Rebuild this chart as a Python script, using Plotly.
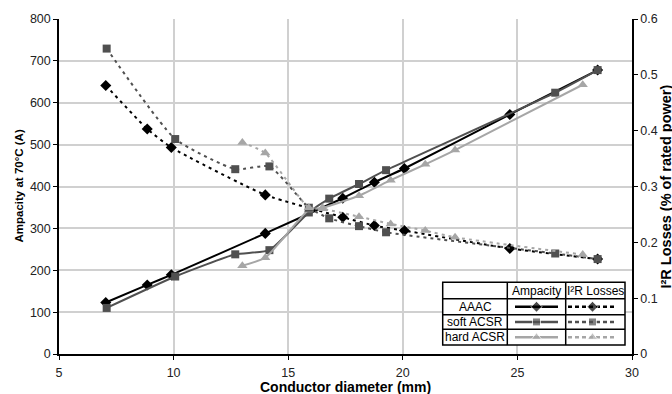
import plotly.graph_objects as go

# ---------------- data ----------------
aaac_diam = [7.04, 8.85, 9.9, 14.0, 17.38, 18.76, 20.07, 24.67, 28.5]
aaac_amp = [123, 165, 189, 288, 372, 410, 443, 572, 678]
aaac_loss = [0.481, 0.403, 0.370, 0.285, 0.245, 0.230, 0.221, 0.189, 0.170]

soft_diam = [7.08, 10.07, 12.69, 14.18, 15.9, 16.79, 18.09, 19.27, 26.65, 28.5]
soft_amp = [110, 185, 238, 248, 338, 371, 406, 439, 624, 678]
soft_loss = [0.547, 0.385, 0.331, 0.336, 0.262, 0.243, 0.229, 0.218, 0.180, 0.170]

hard_diam = [13.0, 14.0, 15.9, 16.5, 18.09, 19.47, 20.98, 22.28, 27.85]
hard_amp = [211, 230, 344, 349, 378, 415, 453, 487, 643]
hard_loss = [0.379, 0.360, 0.262, 0.260, 0.246, 0.233, 0.221, 0.209, 0.178]

series_names = ["AAAC", "soft ACSR", "hard ACSR"]
col_headers = ["Ampacity", "I\u00b2R Losses"]

x_ticks = [5, 10, 15, 20, 25, 30]
y_ticks = [0, 100, 200, 300, 400, 500, 600, 700, 800]
y2_ticks = [0, 0.1, 0.2, 0.3, 0.4, 0.5, 0.6]

# ---------------- styling ----------------
FONT = "Liberation Sans, Arial, sans-serif"
colors = ["#000000", "#505050", "#a6a6a6"]
symbols = ["diamond", "square", "triangle-up"]
msizes = [8.5, 8, 9]
DASH = "3px,4px"

W, H = 672, 394
L, R, T, B = 59, 40, 16, 40
PW, PH = W - L - R, H - T - B
X0, X1 = 5, 30
Y0, Y1 = 0, 800


def px_x(p):
    return X0 + (p - L) / PW * (X1 - X0)


def px_y(p):
    return Y0 + (H - B - p) / PH * (Y1 - Y0)


fig = go.Figure()

data = [
    (aaac_diam, aaac_amp, aaac_loss),
    (soft_diam, soft_amp, soft_loss),
    (hard_diam, hard_amp, hard_loss),
]

for i, (d, a, l) in enumerate(data):
    fig.add_trace(go.Scatter(
        x=d, y=a, mode="lines+markers", xaxis="x", yaxis="y",
        line=dict(color=colors[i], width=2, shape="spline", smoothing=0.5),
        marker=dict(symbol=symbols[i], size=msizes[i], color=colors[i]),
        showlegend=False, hoverinfo="skip"))
for i, (d, a, l) in enumerate(data):
    fig.add_trace(go.Scatter(
        x=d, y=l, mode="lines+markers", xaxis="x", yaxis="y2",
        line=dict(color=colors[i], width=2, dash=DASH, shape="spline", smoothing=0.5),
        marker=dict(symbol=symbols[i], size=msizes[i], color=colors[i]),
        showlegend=False, hoverinfo="skip"))

# ---------------- custom table legend ----------------
tx0, tx1, tx2, tx3 = 442.7, 507.3, 565.7, 625.0
ty0, ty1, ty2, ty3, ty4 = 281.7, 298.3, 314.3, 329.0, 345.0
row_y = [(ty1 + ty2) / 2, (ty2 + ty3) / 2, (ty3 + ty4) / 2]

shapes = [dict(type="rect", xref="x", yref="y", x0=px_x(tx0), x1=px_x(tx3),
               y0=px_y(ty0), y1=px_y(ty4),
               fillcolor="white", line=dict(color="black", width=1.5), layer="between")]
for xv in (tx1, tx2):
    shapes.append(dict(type="line", xref="x", yref="y", x0=px_x(xv), x1=px_x(xv),
                       y0=px_y(ty0), y1=px_y(ty4),
                       line=dict(color="black", width=1.5), layer="between"))
for yv in (ty1, ty2, ty3):
    shapes.append(dict(type="line", xref="x", yref="y", x0=px_x(tx0), x1=px_x(tx3),
                       y0=px_y(yv), y1=px_y(yv),
                       line=dict(color="black", width=1.5), layer="between"))

for i in range(3):
    ry = px_y(row_y[i])
    fig.add_trace(go.Scatter(
        x=[px_x(515), px_x(536.5), px_x(558)], y=[ry, ry, ry], xaxis="x", yaxis="y",
        mode="lines+markers", line=dict(color=colors[i], width=2.5),
        marker=dict(symbol=symbols[i], size=[0, msizes[i], 0], color=colors[i]),
        showlegend=False, hoverinfo="skip"))
    fig.add_trace(go.Scatter(
        x=[px_x(568), px_x(592.5), px_x(617)], y=[ry, ry, ry], xaxis="x", yaxis="y",
        mode="lines+markers", line=dict(color=colors[i], width=2.5, dash="4px,3px"),
        marker=dict(symbol=symbols[i], size=[0, msizes[i], 0], color=colors[i]),
        showlegend=False, hoverinfo="skip"))

annotations = []
for i, name in enumerate(series_names):
    annotations.append(dict(x=px_x((tx0 + tx1) / 2), y=px_y(row_y[i]), xref="x", yref="y",
                            text=name, showarrow=False,
                            font=dict(family=FONT, size=12, color="black"),
                            xanchor="center", yanchor="middle"))
annotations.append(dict(x=px_x((tx1 + tx2) / 2), y=px_y((ty0 + ty1) / 2), xref="x", yref="y",
                        text=col_headers[0], showarrow=False,
                        font=dict(family=FONT, size=12, color="black"),
                        xanchor="center", yanchor="middle"))
annotations.append(dict(x=px_x((tx2 + tx3) / 2), y=px_y((ty0 + ty1) / 2), xref="x", yref="y",
                        text=col_headers[1], showarrow=False,
                        font=dict(family=FONT, size=12, color="black"),
                        xanchor="center", yanchor="middle"))

# axis titles
annotations.append(dict(x=0.5, y=-(387.5 - (H - B)) / PH, xref="paper", yref="paper",
                        text="<b>Conductor diameter (mm)</b>", showarrow=False,
                        font=dict(family=FONT, size=14, color="black"),
                        xanchor="center", yanchor="middle"))
annotations.append(dict(x=-(L - 18) / PW, y=0.5, xref="paper", yref="paper",
                        text="<b>Ampacity at 70\u00b0C (A)</b>", showarrow=False, textangle=-90,
                        font=dict(family=FONT, size=11.5, color="black"),
                        xanchor="center", yanchor="middle"))
annotations.append(dict(x=1 + (665 - (W - R)) / PW, y=0.5, xref="paper", yref="paper",
                        text="<b>I\u00b2R Losses (% of rated power)</b>", showarrow=False,
                        textangle=-90,
                        font=dict(family=FONT, size=14.5, color="black"),
                        xanchor="center", yanchor="middle"))

grid = "#d0d0d0"
tickfont = dict(family=FONT, size=12.5, color="#222222")

fig.update_layout(
    width=W, height=H,
    margin=dict(l=L, r=R, t=T, b=B, pad=0),
    paper_bgcolor="white", plot_bgcolor="white",
    showlegend=False,
    xaxis=dict(range=[X0, X1], tickvals=x_ticks, showgrid=True, gridcolor=grid, gridwidth=1.5,
               showline=True, linecolor="black", linewidth=1.5, ticks="outside", ticklen=4,
               tickcolor="black", tickfont=tickfont, zeroline=False, fixedrange=True,
               ticklabelstandoff=2),
    yaxis=dict(range=[Y0, Y1], tickvals=y_ticks, showgrid=True, gridcolor=grid, gridwidth=1.5,
               showline=True, linecolor="black", linewidth=1.5, ticks="outside", ticklen=4,
               tickcolor="black", tickfont=tickfont, zeroline=False, fixedrange=True),
    yaxis2=dict(range=[0, 0.6], tickvals=y2_ticks, ticktext=[str(v) for v in y2_ticks],
                overlaying="y", side="right", anchor="x", showgrid=False,
                showline=True, linecolor="black", linewidth=1.5, ticks="outside", ticklen=4,
                tickcolor="black", tickfont=tickfont, zeroline=False, fixedrange=True),
    shapes=shapes,
    annotations=annotations,
)

fig.write_html("out.html")
